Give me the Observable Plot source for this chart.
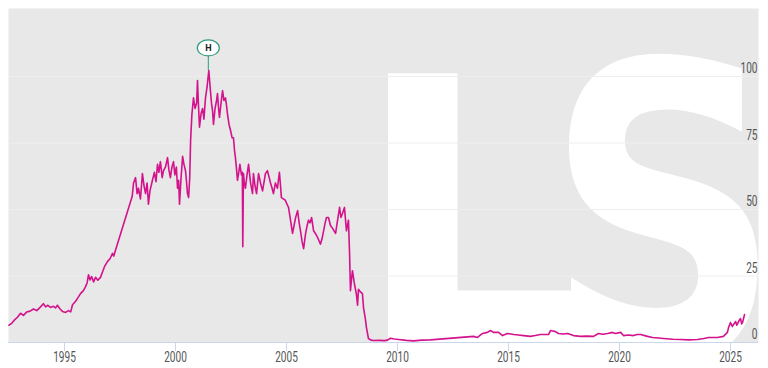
<!DOCTYPE html>
<html>
<head>
<meta charset="utf-8">
<script src="https://cdn.jsdelivr.net/npm/d3@7"></script>
<script src="https://cdn.jsdelivr.net/npm/@observablehq/plot@0.6"></script>
<style>
  html, body { margin: 0; padding: 0; background: #ffffff; }
  #chart { width: 768px; height: 368px; }
</style>
</head>
<body>
<div id="chart"></div>
<script>
// ---- data ----
const years = [
  1992.50, 1992.62, 1992.75, 1992.88, 1993.02, 1993.15, 1993.30, 1993.45, 1993.60, 1993.75,
  1993.90, 1994.05, 1994.15, 1994.25, 1994.37, 1994.50, 1994.60, 1994.68, 1994.80, 1994.91,
  1995.05, 1995.18, 1995.28, 1995.36, 1995.50, 1995.60, 1995.72, 1995.85, 1995.95, 1996.02,
  1996.08, 1996.15, 1996.22, 1996.31, 1996.40, 1996.50, 1996.62, 1996.71, 1996.80, 1996.94,
  1997.05, 1997.16, 1997.22, 1997.30,
  1998.05, 1998.11, 1998.20, 1998.27, 1998.33, 1998.42, 1998.51, 1998.58, 1998.65, 1998.72,
  1998.78, 1998.85, 1998.96, 1999.05, 1999.12, 1999.19, 1999.25, 1999.32, 1999.40, 1999.46,
  1999.55, 1999.64, 1999.70, 1999.77, 1999.84, 1999.91, 1999.97, 2000.04, 2000.09, 2000.14,
  2000.18, 2000.25, 2000.32, 2000.38, 2000.45, 2000.50, 2000.54, 2000.59, 2000.64, 2000.68,
  2000.74, 2000.81, 2000.88, 2000.95, 2000.99, 2001.03, 2001.08, 2001.15, 2001.22, 2001.28,
  2001.35, 2001.42, 2001.50, 2001.56, 2001.62, 2001.67, 2001.71, 2001.78, 2001.85, 2001.89,
  2001.94, 2001.98, 2002.05, 2002.12, 2002.18, 2002.25, 2002.30, 2002.34, 2002.41, 2002.48,
  2002.55, 2002.61, 2002.66, 2002.70, 2002.75, 2002.79, 2002.84, 2002.90, 2002.97, 2003.01,
  2003.03, 2003.06, 2003.10, 2003.15, 2003.22, 2003.29, 2003.38, 2003.47, 2003.51, 2003.58,
  2003.65, 2003.74, 2003.83, 2003.92, 2004.00, 2004.05, 2004.14, 2004.22, 2004.28, 2004.35,
  2004.41, 2004.50, 2004.59, 2004.68, 2004.72, 2004.77, 2004.86, 2004.95, 2005.02, 2005.09,
  2005.18, 2005.27, 2005.34, 2005.41, 2005.50, 2005.57, 2005.63, 2005.70, 2005.77, 2005.86,
  2005.93, 2005.99, 2006.06, 2006.13, 2006.22, 2006.30, 2006.40, 2006.53, 2006.60, 2006.67,
  2006.74, 2006.80, 2006.89, 2006.98, 2007.07, 2007.14, 2007.21, 2007.30, 2007.39, 2007.45,
  2007.52, 2007.61, 2007.70, 2007.79, 2007.84, 2007.88, 2007.93, 2007.97, 2008.06, 2008.15,
  2008.20, 2008.24, 2008.33, 2008.42, 2008.47, 2008.55, 2008.60, 2008.69, 2008.80, 2008.92,
  2009.20, 2009.40, 2009.55, 2009.68, 2009.85, 2010.05, 2010.40, 2010.72, 2011.10, 2011.49,
  2013.42, 2013.60, 2013.83, 2014.05, 2014.19, 2014.32, 2014.55, 2014.73, 2014.95, 2015.23,
  2015.45, 2015.68, 2015.99, 2016.20, 2016.44, 2016.80, 2016.89, 2017.00, 2017.12, 2017.25,
  2017.45, 2017.66, 2017.93, 2018.24, 2018.50, 2018.83, 2019.05, 2019.25, 2019.46, 2019.68,
  2019.82, 2020.05, 2020.18, 2020.40, 2020.63, 2020.80, 2020.95, 2021.26, 2021.49, 2021.75,
  2021.98, 2022.40, 2022.75, 2023.10, 2023.51, 2023.80, 2024.01, 2024.41, 2024.68, 2024.86,
  2024.91, 2025.00, 2025.08, 2025.14, 2025.23, 2025.28, 2025.32, 2025.40, 2025.45, 2025.50,
  2025.54, 2025.60, 2025.63
];
const prices = [
  6.5, 7.2, 8.5, 9.5, 11.0, 10.2, 11.5, 11.8, 12.6, 12.0,
  13.2, 14.6, 13.4, 14.0, 13.2, 13.6, 13.0, 14.0, 12.6, 11.7,
  11.3, 12.0, 11.5, 14.2, 15.5, 16.8, 18.4, 19.5, 21.0, 22.5,
  25.5, 23.5, 24.8, 22.8, 24.5, 23.4, 24.5, 26.5, 28.5, 30.5,
  31.5, 33.5, 32.5, 34.8,
  55.0, 60.0, 62.0, 56.0, 58.0, 54.0, 63.5, 59.0, 56.0, 60.0,
  52.0, 57.0, 61.0, 64.0, 60.5, 67.0, 64.0, 68.0, 62.0, 64.6,
  66.0, 69.5, 65.0, 62.0, 66.0, 68.0, 63.0, 66.0, 58.0, 61.0,
  52.0, 62.0, 70.0, 67.0, 64.6, 60.0, 56.0, 54.5, 62.0, 76.0,
  86.0, 92.0, 88.0, 90.0, 98.5, 90.0, 81.0, 86.0, 88.0, 84.0,
  92.0, 96.0, 102.3, 96.0, 90.0, 87.0, 82.0, 88.0, 91.0, 93.6,
  88.0, 84.6, 90.0, 94.7, 91.0, 92.0, 89.0, 86.0, 82.0, 79.7,
  77.0, 77.0, 72.0, 69.5, 65.0, 61.0, 63.5, 67.0, 63.0, 64.0,
  36.0, 63.5, 60.0, 58.0, 63.0, 67.0, 60.0, 56.0, 63.5, 59.0,
  56.0, 63.5, 60.0, 57.0, 61.0, 63.5, 64.6, 62.0, 60.0, 58.0,
  56.0, 60.0, 58.0, 64.0, 60.0, 54.5, 54.0, 53.4, 52.0, 50.8,
  46.0, 41.0, 44.0, 47.0, 49.6, 45.0, 42.0, 38.0, 35.3, 41.0,
  44.0, 46.0, 45.0, 47.0, 42.0, 41.0, 39.5, 37.0, 39.0, 42.0,
  45.0, 47.0, 47.0, 44.0, 43.0, 42.0, 41.0, 46.0, 50.8, 47.0,
  48.5, 50.8, 42.0, 46.0, 33.5, 19.5, 24.0, 27.0, 22.0, 18.0,
  14.0, 20.0, 19.0, 18.4, 13.0, 9.0, 5.6, 1.5, 0.9, 0.75,
  0.8, 0.7, 0.9, 1.6, 1.3, 1.1, 0.8, 0.6, 0.9, 1.0,
  2.3, 1.9, 3.4, 3.8, 4.5, 3.8, 3.8, 2.6, 3.4, 3.0,
  2.8, 2.6, 2.3, 2.6, 3.0, 3.0, 4.5, 4.3, 4.1, 3.4,
  3.2, 3.4, 2.6, 2.3, 2.4, 2.3, 3.4, 3.1, 3.4, 3.8,
  3.4, 3.8, 2.6, 2.8, 2.6, 3.0, 3.0, 2.3, 1.9, 1.7,
  1.5, 1.2, 1.1, 1.0, 1.1, 1.5, 1.9, 1.9, 2.3, 3.8,
  5.6, 7.5, 6.0, 6.8, 7.9, 6.5, 7.1, 8.5, 9.0, 7.0,
  7.5, 9.5, 10.5
];
const xTickYears = [1995, 2000, 2005, 2010, 2015, 2020, 2025];
const yTickValues = [0, 25, 50, 75, 100];
const flagText = "H";
const watermarkLetters = ["L", "S"];

// ---- build ----
const rows = years.map((yr, i) => ({year: yr, price: prices[i]}));
let peak = rows[0];
for (const r of rows) if (r.price > peak.price) peak = r;

const font = "Roboto, 'Liberation Sans', sans-serif";

const plot = Plot.plot({
  width: 768,
  height: 368,
  marginLeft: 8,
  marginRight: 10,
  marginTop: 8,
  marginBottom: 26,
  style: {fontFamily: font, fontSize: "14px", color: "#555555", background: "#ffffff", overflow: "visible"},
  x: {domain: [1992.477, 2026.26], ticks: xTickYears, tickFormat: d => String(d), tickSize: 9, tickPadding: 1, label: null},
  y: {domain: [0, 125.6], axis: null},
  marks: [
    Plot.frame({fill: "#e8e8e8", stroke: null}),
    Plot.ruleY(yTickValues.filter(d => d > 0), {stroke: "#eeeeee", strokeWidth: 1}),
    Plot.ruleY([0], {stroke: "#ccd6eb", strokeWidth: 1}),
    Plot.line(rows, {x: "year", y: "price", stroke: "#d3128c", strokeWidth: 1.6}),
    Plot.text(yTickValues, {y: d => d, text: d => String(d), frameAnchor: "right", textAnchor: "end", dx: -1, dy: -8, fill: "#555555", fontSize: 14})
  ]
});

document.getElementById("chart").appendChild(plot);
const svg = d3.select(plot.tagName.toLowerCase() === "svg" ? plot : plot.querySelector("svg"));

// axis tick colour
svg.selectAll("[aria-label^='x-axis'] line, [aria-label^='x-axis'] path")
  .attr("stroke", "#ccd6eb").style("stroke", "#ccd6eb");
svg.selectAll("[aria-label^='x-axis'] text").attr("fill", "#555555");

// condensed look for tick labels
svg.selectAll("[aria-label^='x-axis'] text, [aria-label='text'] text").each(function () {
  const len = this.getComputedTextLength();
  if (len > 0) {
    this.setAttribute("textLength", (len * 0.72).toFixed(2));
    this.setAttribute("lengthAdjust", "spacingAndGlyphs");
  }
});

// watermark behind grid lines
const frameNode = svg.select("[aria-label='frame']").node();
const wm = document.createElementNS("http://www.w3.org/2000/svg", "g");
frameNode.after(wm);
const wmg = d3.select(wm).attr("font-family", "'DejaVu Sans', sans-serif").attr("font-weight", "bold")
  .attr("fill", "#ffffff").attr("text-anchor", "start");
wmg.append("text").attr("x", 354).attr("y", 343).attr("font-size", 370).text(watermarkLetters[0]);
wmg.append("text").attr("x", 540).attr("y", 358).attr("font-size", 410)
  .attr("transform", "translate(567,0) scale(0.8,1) translate(-567,0)")
  .text(watermarkLetters[1]);
const clipId = "wmclip";
svg.append("defs").append("clipPath").attr("id", clipId)
  .append("rect").attr("x", 8).attr("y", 8).attr("width", 750).attr("height", 334);
wmg.attr("clip-path", `url(#${clipId})`);

// peak flag
const sx = plot.scale("x"), sy = plot.scale("y");
const px = sx.apply(peak.year), py = sy.apply(peak.price);
const fg = svg.append("g");
fg.append("line").attr("x1", px).attr("x2", px).attr("y1", py).attr("y2", py - 14)
  .attr("stroke", "#2f9a78").attr("stroke-width", 1);
fg.append("ellipse").attr("cx", px).attr("cy", py - 22).attr("rx", 11).attr("ry", 8)
  .attr("fill", "#ffffff").attr("stroke", "#2f9a78").attr("stroke-width", 1.2);
fg.append("text").attr("x", px).attr("y", py - 22).attr("dy", "0.36em").attr("text-anchor", "middle")
  .attr("font-family", font).attr("font-weight", "bold").attr("font-size", 9).attr("fill", "#222")
  .text(flagText);
</script>
</body>
</html>
